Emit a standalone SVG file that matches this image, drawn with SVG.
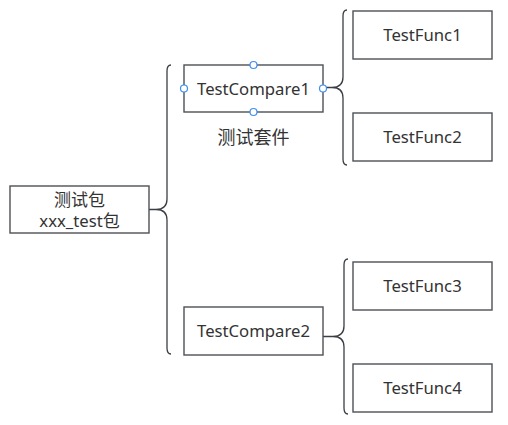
<svg xmlns="http://www.w3.org/2000/svg" width="508" height="425" viewBox="0 0 508 425">
<style>
.box{fill:#ffffff;stroke:#4d5156;stroke-width:1.4}
.brace{fill:none;stroke:#3b3f44;stroke-width:1.3}
.t{font-family:"Noto Sans","Noto Sans CJK SC",sans-serif;font-size:16.7px;fill:#333333;text-anchor:middle}
.cjk{font-family:"Noto Sans CJK SC","Noto Sans",sans-serif;font-size:17px;fill:#333333;text-anchor:middle}
.h{fill:#ffffff;stroke:#3d8ef5;stroke-width:1.2}
</style>
<rect width="508" height="425" fill="#ffffff"/>
<g id="connectors">
<path class="brace" d="M149,209.5 L156,209.5 Q167,209.5 167,199 L167,71 Q167,65 171,65 M156,209.5 Q167,209.5 167,220 L167,348 Q167,354 171,354"/>
<path class="brace" d="M323,87.5 L332,87.5 Q343,87.5 343,77 L343,16 Q343,10 347,10 M332,87.5 Q343,87.5 343,98 L343,159 Q343,165 347,165"/>
<path class="brace" d="M323,336.5 L333,336.5 Q344,336.5 344,326 L344,265 Q344,259 348,259 M333,336.5 Q344,336.5 344,347 L344,408 Q344,414 348,414"/>
</g>
<g id="root">
<rect class="box" x="10" y="186" width="139" height="47"/>
<text class="cjk" x="79.5" y="206">测试包</text>
<text class="t" x="79.5" y="227">xxx_test<tspan style="font-family:'Noto Sans CJK SC',sans-serif;font-size:17px">包</tspan></text>
</g>
<g id="testcompare1">
<rect class="box" x="184" y="65" width="139" height="47"/>
<text class="t" x="253.5" y="94.5">TestCompare1</text>
<circle class="h" cx="184" cy="88.5" r="3.5"/>
<circle class="h" cx="323" cy="88.5" r="3.5"/>
<circle class="h" cx="253.5" cy="65" r="3.5"/>
<circle class="h" cx="253.5" cy="112" r="3.5"/>
</g>
<g id="label-suite">
<text class="cjk" x="253.5" y="144" style="font-size:18px">测试套件</text>
</g>
<g id="testcompare2">
<rect class="box" x="184" y="307" width="139" height="48"/>
<text class="t" x="253.5" y="337">TestCompare2</text>
</g>
<g id="testfunc1">
<rect class="box" x="353" y="11" width="139" height="48"/>
<text class="t" x="422.5" y="41">TestFunc1</text>
</g>
<g id="testfunc2">
<rect class="box" x="353" y="113" width="139" height="48"/>
<text class="t" x="422.5" y="143">TestFunc2</text>
</g>
<g id="testfunc3">
<rect class="box" x="353" y="262" width="139" height="48"/>
<text class="t" x="422.5" y="292">TestFunc3</text>
</g>
<g id="testfunc4">
<rect class="box" x="353" y="364" width="139" height="48"/>
<text class="t" x="422.5" y="394">TestFunc4</text>
</g>
</svg>
